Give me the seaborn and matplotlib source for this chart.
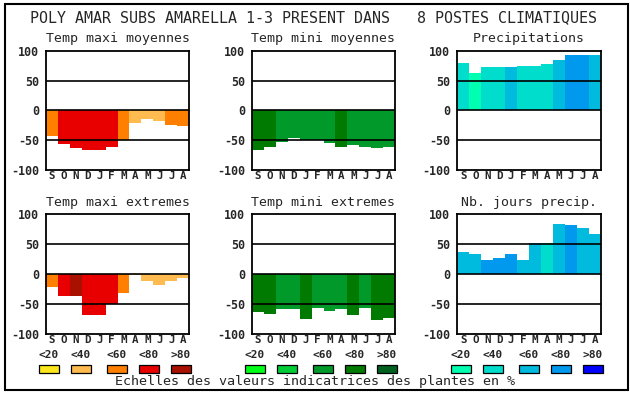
import matplotlib.pyplot as plt
import pandas as pd
import seaborn as sns
from matplotlib.patches import Rectangle

# valeurs
mois = ["S", "O", "N", "D", "J", "F", "M", "A", "M", "J", "J", "A"]
niveaux = ["<20", "<40", "<60", "<80", ">80"]

tmax_moy = [-43, -57, -63, -66, -66, -61, -50, -21, -15, -18, -24, -26]
tmax_moy_niv = [2, 3, 3, 3, 3, 3, 2, 1, 1, 1, 2, 2]
tmin_moy = [-66, -61, -53, -46, -50, -50, -54, -61, -58, -61, -63, -61]
tmin_moy_niv = [3, 3, 2, 2, 2, 2, 2, 3, 2, 2, 2, 2]
precip = [80, 62, 73, 73, 72, 75, 75, 77, 85, 92, 92, 92]
precip_niv = [1, 0, 1, 1, 2, 1, 1, 1, 2, 3, 3, 2]
tmax_ext = [-22, -36, -36, -68, -68, -49, -31, -2, -11, -18, -11, -6]
tmax_ext_niv = [2, 3, 4, 3, 3, 3, 2, 1, 1, 1, 1, 1]
tmin_ext = [-63, -66, -58, -58, -74, -56, -61, -58, -68, -56, -76, -73]
tmin_ext_niv = [3, 3, 2, 2, 3, 2, 2, 2, 3, 2, 3, 3]
jours = [37, 34, 24, 27, 34, 24, 52, 52, 84, 82, 77, 67]
jours_niv = [2, 2, 3, 3, 3, 2, 2, 1, 2, 3, 2, 2]

chaud = ["#fce61c", "#ffbb50", "#ff8000", "#e80000", "#a81000"]
vert = ["#00ff18", "#00cc38", "#00992a", "#007a00", "#006020"]
bleu = ["#00ffb0", "#00ddcc", "#00bbdd", "#0099ee", "#0000ff"]

panneaux = [
    ("Temp maxi moyennes", tmax_moy, tmax_moy_niv, chaud),
    ("Temp mini moyennes", tmin_moy, tmin_moy_niv, vert),
    ("Precipitations", precip, precip_niv, bleu),
    ("Temp maxi extremes", tmax_ext, tmax_ext_niv, chaud),
    ("Temp mini extremes", tmin_ext, tmin_ext_niv, vert),
    ("Nb. jours precip.", jours, jours_niv, bleu),
]

sns.set_style("white")
plt.rcParams["font.family"] = ["DejaVu Sans Mono", "DejaVu Sans"]

W, H = 630, 394
fig = plt.figure(figsize=(W / 100, H / 100), dpi=100)


def fx(x):
    return x / W


def fy(y):
    return 1 - y / H


col_x = [45.7, 251.7, 457.3]
row_y = [(50.7, 170), (214.3, 334.3)]
larg = 143.6

for i, (titre, vals, niv, pal) in enumerate(panneaux):
    r, c = divmod(i, 3)
    top, bot = row_y[r]
    ax = fig.add_axes([fx(col_x[c]), fy(bot), larg / W, (bot - top) / H])
    df = pd.DataFrame({
        "pos": list(range(12)),
        "val": vals,
        "niveau": [niveaux[k] for k in niv],
    })
    sns.barplot(data=df, x="pos", y="val", hue="niveau", hue_order=niveaux,
                palette=pal, saturation=1, dodge=False, width=1,
                errorbar=None, legend=False, linewidth=0, ax=ax)
    for yv in (-50, 0, 50):
        ax.axhline(yv, color="black", lw=1.2, zorder=5)
    ax.set_ylim(-100, 100)
    ax.set_xlim(-0.5, 11.5)
    ax.set_yticks([100, 50, 0, -50, -100])
    ax.set_yticklabels(["100", "50", "0", "-50", "-100"],
                       fontweight="bold", fontsize=8.4)
    ax.set_xticks(range(12))
    ax.set_xticklabels(mois, fontweight="bold", fontsize=7.8)
    ax.tick_params(axis="x", length=0, pad=0.5)
    ax.tick_params(axis="y", length=0, pad=5)
    ax.set_xlabel("")
    ax.set_ylabel("")
    for s in ax.spines.values():
        s.set_visible(True)
        s.set_color("black")
        s.set_linewidth(1.3)
        s.set_zorder(6)
    fig.text(fx(col_x[c] + larg / 2), fy(top - 12), titre,
             ha="center", va="center", fontsize=9.5)

fig.text(fx(314), fy(18), "POLY AMAR SUBS AMARELLA 1-3 PRESENT DANS   8 POSTES CLIMATIQUES",
         ha="center", va="center", fontsize=10.8)

# legendes des echelles
sw_x = [
    [39, 71, 107, 139, 171],
    [245, 277, 313, 345, 377],
    [451, 483, 519, 551, 583],
]
for groupe, pal in zip(sw_x, [chaud, vert, bleu]):
    for x0, lab, col in zip(groupe, niveaux, pal):
        fig.patches.append(Rectangle((fx(x0), fy(373.3)), 20 / W, 8.3 / H,
                                     transform=fig.transFigure, facecolor=col,
                                     edgecolor="black", lw=0.9))
        fig.text(fx(x0 + 10), fy(355), lab, ha="center", va="center",
                 fontweight="bold", fontsize=8)

fig.text(fx(315), fy(382), "Echelles des valeurs indicatrices des plantes en %",
         ha="center", va="center", fontsize=9.6)

fig.patches.append(Rectangle((fx(5), fy(390)), 623 / W, 386 / H,
                             transform=fig.transFigure, fill=False,
                             edgecolor="black", lw=1.5))

fig.savefig("out.png", dpi=100)
